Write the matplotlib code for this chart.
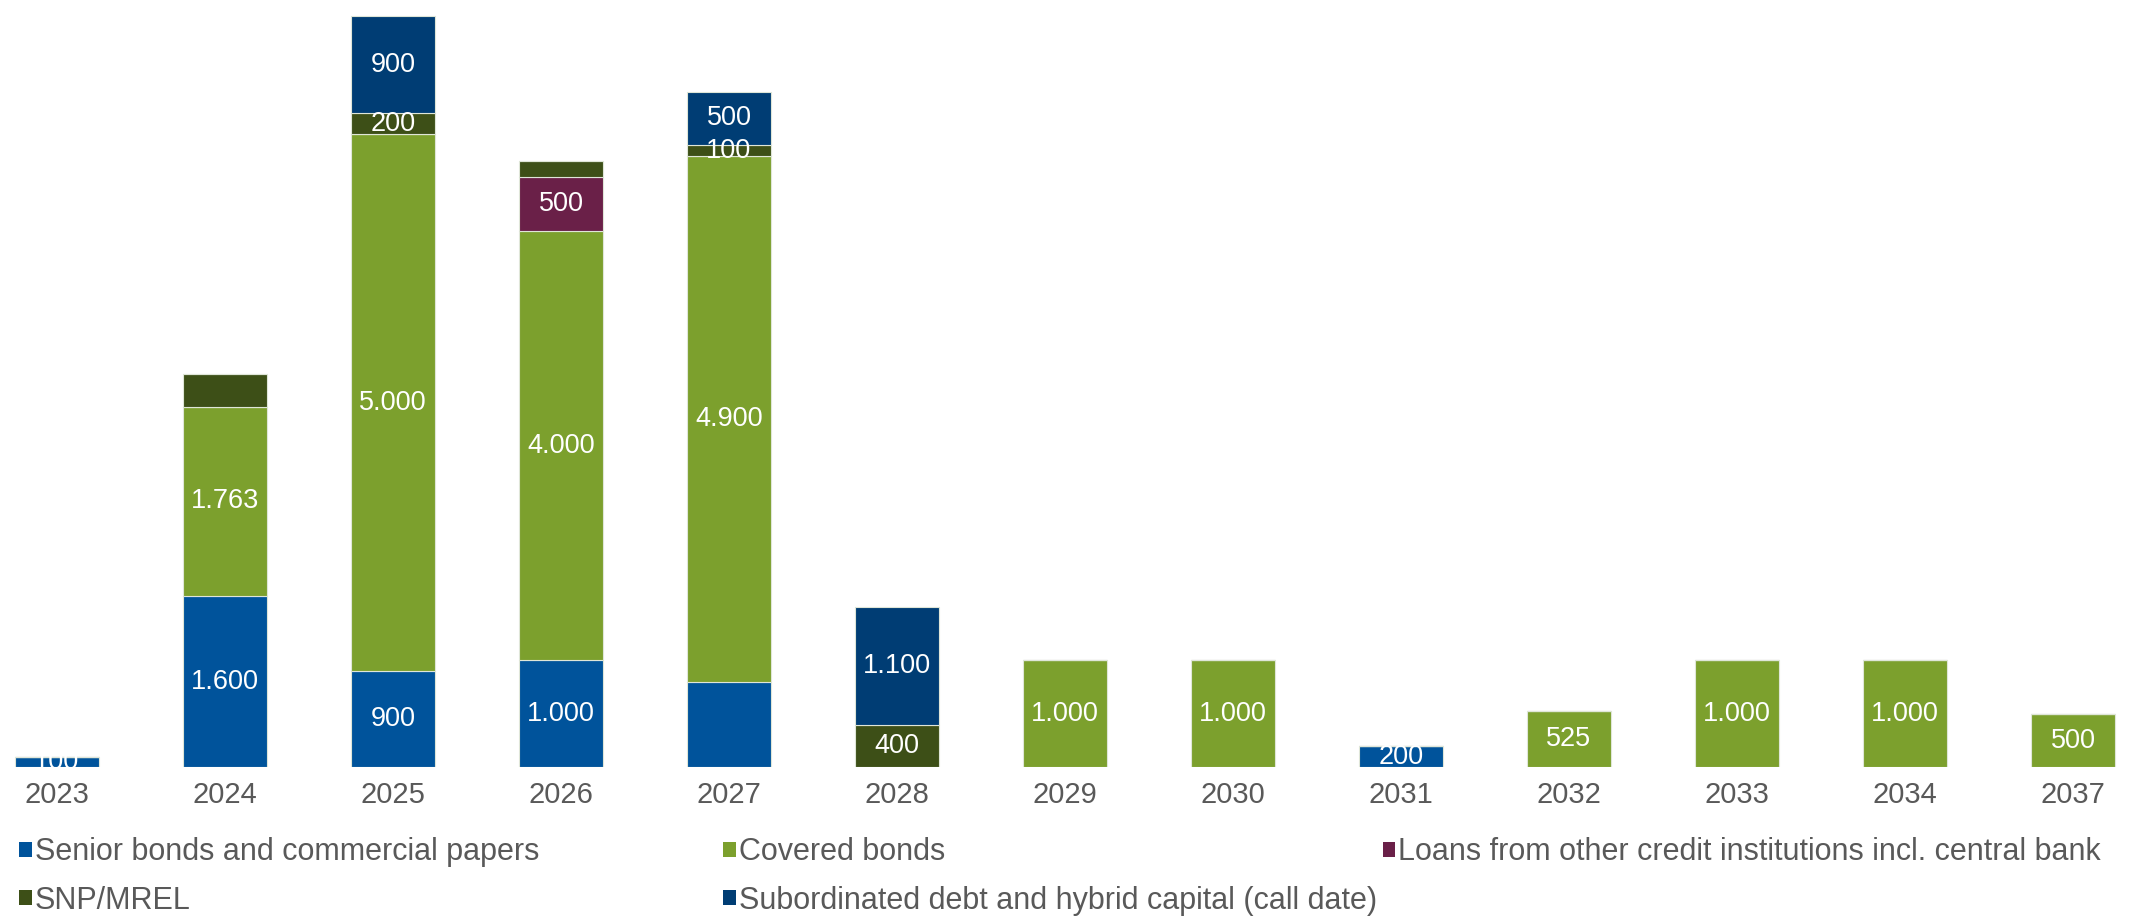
import numpy as np
import matplotlib.pyplot as plt
from matplotlib.patches import Patch

plt.rcParams['font.family'] = ['Liberation Sans', 'DejaVu Sans']

years = ["2023", "2024", "2025", "2026", "2027", "2028", "2029",
         "2030", "2031", "2032", "2033", "2034", "2037"]

senior = [100, 1600, 900, 1000, 800, 0, 0, 0, 200, 0, 0, 0, 0]
covered = [0, 1763, 5000, 4000, 4900, 0, 1000, 1000, 0, 525, 1000, 1000, 500]
loans = [0, 0, 0, 500, 0, 0, 0, 0, 0, 0, 0, 0, 0]
snp = [0, 300, 200, 150, 100, 400, 0, 0, 0, 0, 0, 0, 0]
subord = [0, 0, 900, 0, 500, 1100, 0, 0, 0, 0, 0, 0, 0]

series_names = ["Senior bonds and commercial papers", "Covered bonds",
                "Loans from other credit institutions incl. central bank",
                "SNP/MREL", "Subordinated debt and hybrid capital (call date)"]
series_vals = [senior, covered, loans, snp, subord]
colors = ["#00539b", "#7ca02d", "#6a2048", "#3d4f17", "#003d74"]

# segments drawn without a value label (series index, year)
no_label = {(0, "2027"), (3, "2024"), (3, "2026")}

fig = plt.figure(figsize=(21.53, 9.22), dpi=100)
ax = fig.add_axes([0, 0.1676, 1, 0.8324])

x = np.arange(len(years))
bottom = np.zeros(len(years))
for si, (vals, col) in enumerate(zip(series_vals, colors)):
    vals = np.array(vals, dtype=float)
    ax.bar(x, vals, width=0.5, bottom=bottom, color=col,
           edgecolor="#dfe6d8", linewidth=0.8)
    for i, v in enumerate(vals):
        if v <= 0 or (si, years[i]) in no_label:
            continue
        ax.text(x[i], bottom[i] + v / 2, f"{int(v):,}".replace(",", "."),
                ha="center", va="center", color="white", fontsize=19.5)
    bottom += vals

ax.set_xlim(-0.339, 12.476)
ax.set_ylim(0, 7153)
ax.set_xticks(x)
ax.set_xticklabels(years, fontsize=21, color="#595959")
ax.tick_params(axis="x", length=0, pad=10)
ax.set_yticks([])
for s in ax.spines.values():
    s.set_visible(False)

# legend in three columns at fixed figure positions
columns = [[0, 3], [1, 4], [2]]
col_x = [0.009, 0.336, 0.6424]
for idxs, cx in zip(columns, col_x):
    handles = [Patch(facecolor=colors[k], edgecolor="none") for k in idxs]
    labels = [series_names[k] for k in idxs]
    leg = fig.legend(handles, labels, loc="upper left", bbox_to_anchor=(cx, 0.092),
                     frameon=False, fontsize=22, handlelength=0.4,
                     handleheight=0.4, handletextpad=0.1, labelspacing=0.6,
                     borderaxespad=0, borderpad=0)
    for t in leg.get_texts():
        t.set_color("#595959")

fig.savefig("out.png", dpi=100)
